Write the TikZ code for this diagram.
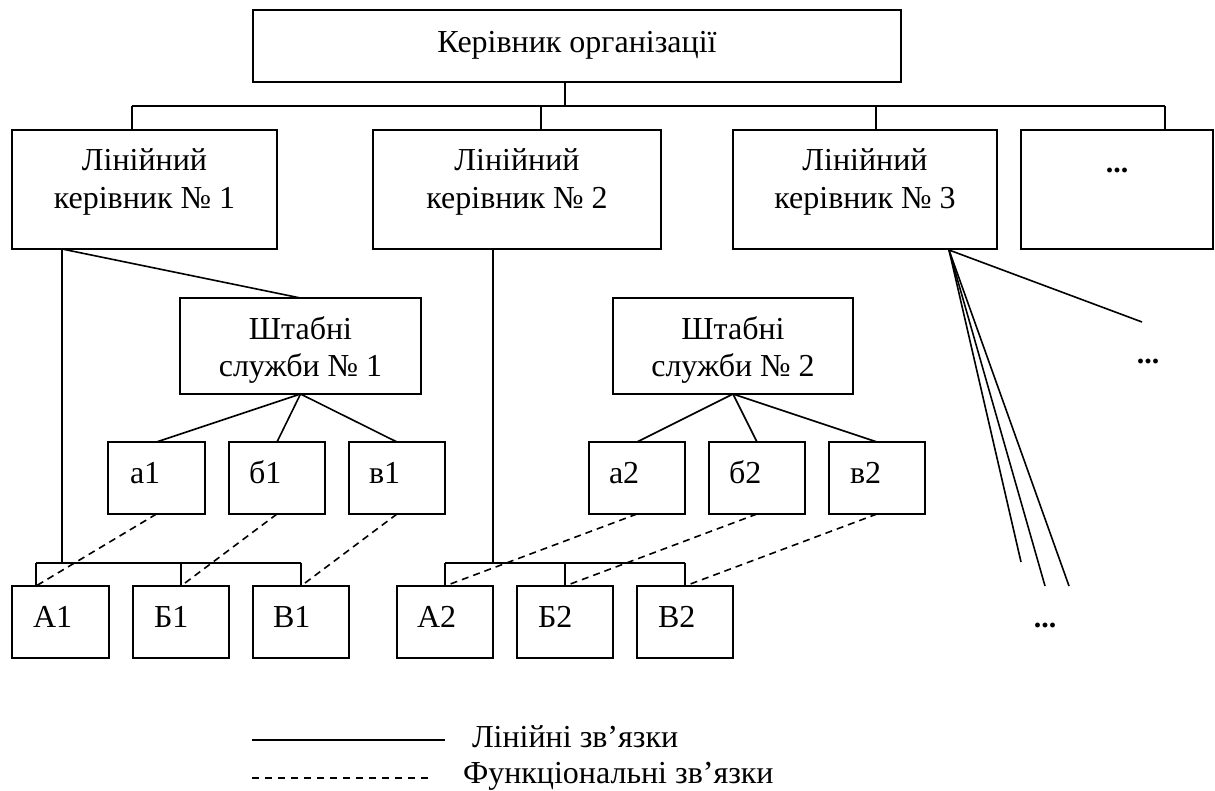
\documentclass[tikz,border=0pt]{standalone}
\usepackage{fontspec}
\setmainfont{Liberation Serif}
\begin{document}
\begin{tikzpicture}[x=1pt,y=-1pt,
  every node/.style={inner sep=0pt, outer sep=0pt},
  box/.style={draw, line width=1.6pt, rectangle, inner sep=0pt},
  bigbox/.style={box, minimum height=119pt},
  staff/.style={box, minimum width=241pt, minimum height=96pt},
  small/.style={box, minimum width=96.5pt, minimum height=72pt},
  txt/.style={font=\fontsize{32}{38}\selectfont, anchor=base},
  ltxt/.style={font=\fontsize{32}{38}\selectfont, anchor=base west},
  dots/.style={font=\fontsize{30}{38}\selectfont\bfseries, anchor=base},
  lin/.style={line width=1.6pt},
  fun/.style={line width=1.6pt, dash pattern=on 7pt off 5pt}]
\useasboundingbox[fill=white] (0,0) rectangle (1215,790);

% boxes
\node[box, minimum width=648pt, minimum height=72pt] (top) at (577,46) {};
\node[bigbox, minimum width=265pt] (L1) at (144.5,189.5) {};
\node[bigbox, minimum width=288pt] (L2) at (517,189.5) {};
\node[bigbox, minimum width=264pt] (L3) at (865,189.5) {};
\node[bigbox, minimum width=192pt] (L4) at (1117,189.5) {};
\node[staff] (S1) at (300.5,346) {};
\node[staff, minimum width=240pt] (S2) at (733,346) {};
\node[small] (a1) at (156.5,478) {};
\node[small] (b1) at (277,478) {};
\node[small] (v1) at (397,478) {};
\node[small] (a2) at (637,478) {};
\node[small] (b2) at (757,478) {};
\node[small] (v2) at (877,478) {};
\node[small] (A1) at (60.5,622) {};
\node[small] (B1) at (181,622) {};
\node[small] (V1) at (301,622) {};
\node[small] (A2) at (445,622) {};
\node[small] (B2) at (565,622) {};
\node[small] (V2) at (685,622) {};

% texts
\node[txt] (ttop) at (577,52) {Керівник організації};
\node[txt] (t1a) at (144.5,170) {Лінійний};
\node[txt] (t1b) at (144.5,208) {керівник № 1};
\node[txt] (t2a) at (517,170) {Лінійний};
\node[txt] (t2b) at (517,208) {керівник № 2};
\node[txt] (t3a) at (865,170) {Лінійний};
\node[txt] (t3b) at (865,208) {керівник № 3};
\node[dots] (t4) at (1117,172) {...};
\node[txt] (s1a) at (300.5,339) {Штабні};
\node[txt] (s1b) at (300.5,376) {служби № 1};
\node[txt] (s2a) at (733,339) {Штабні};
\node[txt] (s2b) at (733,376) {служби № 2};
\node[ltxt] (ta1) at (130,483) {а1};
\node[ltxt] (tb1) at (249,483) {б1};
\node[ltxt] (tv1) at (369,483) {в1};
\node[ltxt] (ta2) at (609,483) {а2};
\node[ltxt] (tb2) at (729,483) {б2};
\node[ltxt] (tv2) at (850,483) {в2};
\node[ltxt] (tA1) at (33,627) {А1};
\node[ltxt] (tB1) at (154,627) {Б1};
\node[ltxt] (tV1) at (273,627) {В1};
\node[ltxt] (tA2) at (417,627) {А2};
\node[ltxt] (tB2) at (538,627) {Б2};
\node[ltxt] (tV2) at (658,627) {В2};
\node[dots] (e1) at (1148,363) {...};
\node[dots] (e2) at (1045,627) {...};

% top bus
\coordinate (b0) at (565,106);
\coordinate (d1) at (132,106);
\coordinate (d2) at (541,106);
\coordinate (d3) at (876,106);
\coordinate (d4) at (1165,106);
\draw[lin] (top.south -| b0) -- (b0);
\draw[lin] (d1) -- (d4);
\draw[lin] (d1) -- (L1.north -| d1);
\draw[lin] (d2) -- (L2.north -| d2);
\draw[lin] (d3) -- (L3.north -| d3);
\draw[lin] (d4) -- (L4.north -| d4);

% group 1
\coordinate (p1) at (62,249);
\coordinate (q1) at (62,563);
\coordinate (g1l) at (36,563);
\coordinate (g1r) at (301,563);
\coordinate (A1c) at (36,586);
\draw[lin] (p1) -- (q1);
\draw[lin] (p1) -- (S1.north);
\draw[lin] (S1.south) -- (a1.north);
\draw[lin] (S1.south) -- (b1.north);
\draw[lin] (S1.south) -- (v1.north);
\draw[lin] (g1l) -- (g1r);
\draw[lin] (g1l) -- (A1c);
\draw[lin] (B1.north |- g1l) -- (B1.north);
\draw[lin] (g1r) -- (V1.north);
\draw[fun] (a1.south) -- (A1c);
\draw[fun] (b1.south) -- (B1.north);
\draw[fun] (v1.south) -- (V1.north);

% group 2
\coordinate (p2) at (493,250);
\coordinate (g2l) at (445,563);
\coordinate (g2r) at (685,563);
\draw[lin] (p2) -- (p2 |- g2l);
\draw[lin] (S2.south) -- (a2.north);
\draw[lin] (S2.south) -- (b2.north);
\draw[lin] (S2.south) -- (v2.north);
\draw[lin] (g2l) -- (g2r);
\draw[lin] (g2l) -- (A2.north);
\draw[lin] (B2.north |- g2l) -- (B2.north);
\draw[lin] (g2r) -- (V2.north);
\draw[fun] (a2.south) -- (A2.north);
\draw[fun] (b2.south) -- (B2.north);
\draw[fun] (v2.south) -- (V2.north);

% fan from L3
\coordinate (f0) at (949,250);
\coordinate (f1) at (1142,322);
\coordinate (f2) at (1021,562);
\coordinate (f3) at (1045,586);
\coordinate (f4) at (1069,586);
\draw[lin] (f0) -- (f1);
\draw[lin] (f0) -- (f2);
\draw[lin] (f0) -- (f3);
\draw[lin] (f0) -- (f4);

% legend
\coordinate (k1) at (252,740);
\coordinate (k2) at (445,740);
\coordinate (k3) at (252,778);
\coordinate (k4) at (432,778);
\draw[lin] (k1) -- (k2);
\draw[line width=1.6pt, dash pattern=on 7pt off 6pt] (k3) -- (k4);
\node[ltxt] (lg1) at (472,747) {Лінійні зв’язки};
\node[ltxt] (lg2) at (463,783) {Функціональні зв’язки};
\end{tikzpicture}
\end{document}
